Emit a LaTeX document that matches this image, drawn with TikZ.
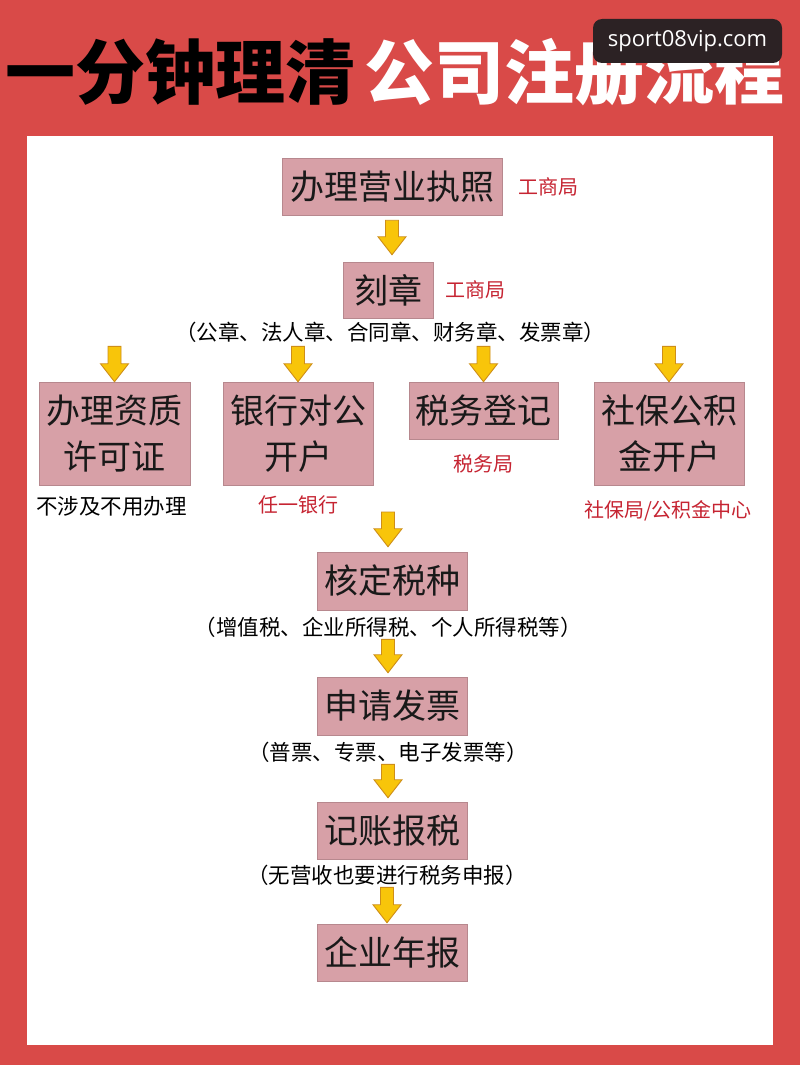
\documentclass[tikz,border=0pt]{standalone}
\usepackage{fontspec}
\setmainfont{Noto Sans CJK SC}
\newfontfamily\wmfont{Open Sans}
\usetikzlibrary{calc,positioning}
\definecolor{bgred}{RGB}{217,74,72}
\definecolor{boxpink}{RGB}{215,160,167}
\definecolor{labelred}{RGB}{198,36,50}
\definecolor{arrowgold}{RGB}{248,197,10}
\definecolor{arrowedge}{RGB}{206,142,24}
\definecolor{wmgray}{RGB}{44,34,36}
\newcommand\flowarrow[2]{\draw[fatarrow] let \p1=#1, \p2=#2 in
  (\x1-6.5pt,\y1) -- (\x1+6.5pt,\y1) -- (\x1+6.5pt,\y2+18pt) -- (\x1+14pt,\y2+18pt)
  -- (\x1,\y2) -- (\x1-14pt,\y2+18pt) -- (\x1-6.5pt,\y2+18pt) -- cycle;}
\begin{document}
\begin{tikzpicture}[x=1pt, y=-1pt, every node/.style={inner sep=0pt},
  box/.style={fill=boxpink, draw=boxpink!85!black, line width=.5pt, align=center,
    text=black!90, font=\fontsize{34}{46}\selectfont},
  note/.style={font=\fontsize{21.5}{23}\selectfont},
  tag/.style={text=labelred, font=\fontsize{20}{22}\selectfont},
  fatarrow/.style={fill=arrowgold, draw=arrowedge, line width=.9pt, line join=miter}]
\useasboundingbox (0,0) rectangle (800,1065);
\fill[bgred] (0,0) rectangle (800,1065);
\fill[white] (27,136) rectangle (773,1045);
\node[anchor=east, font=\fontsize{70}{70}\selectfont\bfseries] (ttlA) at (356,72) {一分钟理清};
\node[anchor=west, text=white, font=\fontsize{70}{70}\selectfont\bfseries] (ttlB) at (364,72) {公司注册流程};
\node[fill=wmgray, rounded corners=9pt, minimum width=189pt, minimum height=44pt, text=white,
  font=\wmfont\fontsize{22}{22}\selectfont] (wm) at (687.5,41) {sport08vip.com};
\node[box, minimum width=220pt, minimum height=57pt] (lic) at (392,186.5) {办理营业执照};
\node[tag, right=16pt of lic] (lictag) {工商局};
\node[box, minimum width=90pt, minimum height=56pt] (seal) at (388,290) {刻章};
\node[tag, right=12pt of seal] (sealtag) {工商局};
\node[note] (sealnote) at (390,332) {（公章、法人章、合同章、财务章、发票章）};
\node[box, minimum width=151pt, minimum height=103pt] (qual) at (114.5,433.5) {办理资质\\许可证};
\node[box, minimum width=150pt, minimum height=103pt] (bank) at (298,433.5) {银行对公\\开户};
\node[box, minimum width=149pt, minimum height=57pt] (taxreg) at (483.5,410.5) {税务登记};
\node[box, minimum width=150pt, minimum height=103pt] (social) at (669,433.5) {社保公积\\金开户};
\node[note] (qualtag) at (111.5,506) {不涉及不用办理};
\node[tag] (banktag) at (298,505) {任一银行};
\node[tag] (taxregtag) at (483,464) {税务局};
\node[tag] (socialtag) at (668,511) {社保局/公积金中心};
\coordinate (join) at (388,512);
\node[box, minimum width=150pt, minimum height=58pt] (taxtype) at (392,581) {核定税种};
\node[note] (taxnote) at (388,627) {（增值税、企业所得税、个人所得税等）};
\node[box, minimum width=150pt, minimum height=58pt] (invoice) at (392,706) {申请发票};
\node[note] (invnote) at (388,752) {（普票、专票、电子发票等）};
\node[box, minimum width=150pt, minimum height=57pt] (book) at (392,830.5) {记账报税};
\node[note] (booknote) at (387,875) {（无营收也要进行税务申报）};
\node[box, minimum width=150pt, minimum height=57pt] (annual) at (392,952.5) {企业年报};
\flowarrow{([yshift=-5pt]lic.south)}{([yshift=7pt]seal.north)}
\flowarrow{([yshift=-4pt]sealnote.south -| qual.north)}{(qual.north)}
\flowarrow{([yshift=-4pt]sealnote.south -| bank.north)}{(bank.north)}
\flowarrow{([yshift=-4pt]sealnote.south -| taxreg.north)}{(taxreg.north)}
\flowarrow{([yshift=-4pt]sealnote.south -| social.north)}{(social.north)}
\flowarrow{(join)}{([yshift=5pt]join |- taxtype.north)}
\flowarrow{([yshift=-2pt]taxnote.south)}{([yshift=4pt]taxnote.south |- invoice.north)}
\flowarrow{([yshift=-2pt]invnote.south)}{([yshift=4pt]invnote.south |- book.north)}
\flowarrow{([yshift=-2pt]booknote.south)}{([yshift=1pt]booknote.south |- annual.north)}
\end{tikzpicture}
\end{document}
